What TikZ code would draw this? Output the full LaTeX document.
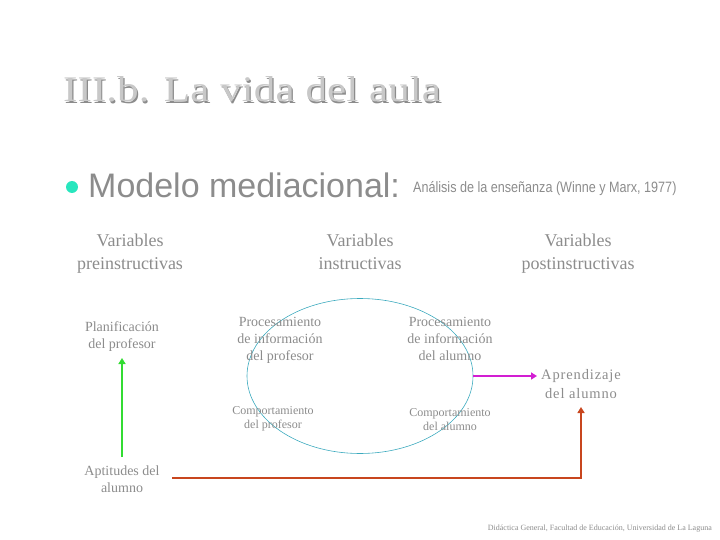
\documentclass[tikz,border=0pt]{standalone}
\usepackage{fontspec}
\setmainfont{Liberation Serif}
\newfontfamily\arialf{Liberation Sans}
\newfontfamily\spacedf[LetterSpace=6]{Liberation Serif}
\usetikzlibrary{arrows.meta,shapes.geometric}
\definecolor{txtgray}{RGB}{140,140,140}
\definecolor{titlegray}{RGB}{200,200,200}
\definecolor{shadowgray}{RGB}{140,140,140}
\definecolor{bulletc}{RGB}{40,230,190}
\definecolor{ellc}{RGB}{60,170,190}
\definecolor{greenc}{RGB}{50,220,50}
\definecolor{magc}{RGB}{210,30,210}
\definecolor{redc}{RGB}{200,70,30}
\tikzset{
  lbl/.style={text=txtgray, align=center, inner sep=0pt},
  big/.style={lbl, font=\fontsize{18}{23}\selectfont},
  mid/.style={lbl, font=\fontsize{14}{17}\selectfont},
  small/.style={lbl, font=\fontsize{12}{14}\selectfont},
  arr/.style={line width=2pt, -{Triangle[length=6pt,width=7pt]}}
}
\begin{document}
\begin{tikzpicture}[x=1pt,y=-1pt]
\useasboundingbox (0,0) rectangle (720,540);
% title
\node[anchor=base west, inner sep=0pt, text=shadowgray, font=\fontsize{36}{36}\selectfont, xscale=1.2] (titleshadow) at (64.2,103.2) {III.b. La vida del aula};
\node[anchor=base west, inner sep=0pt, text=titlegray, font=\fontsize{36}{36}\selectfont, xscale=1.2] (title) at (63,102) {III.b. La vida del aula};
% bullet line
\fill[bulletc] (72,187) circle (6) node (bullet) {};
\node[anchor=base west, inner sep=0pt, text=txtgray, font=\arialf\fontsize{34}{34}\selectfont] (modelo) at (88,197) {Modelo mediacional:};
\node[anchor=base west, inner sep=0pt, text=txtgray, font=\arialf\fontsize{15}{15}\selectfont, xscale=0.84] (analisis) at (413,193) {Análisis de la enseñanza (Winne y Marx, 1977)};
% headers
\node[big] (pre) at (130,253) {Variables\strut\\preinstructivas\strut};
\node[big] (ins) at (360,253) {Variables\strut\\instructivas\strut};
\node[big] (post) at (578,253) {Variables\strut\\postinstructivas\strut};
% ellipse
\node[draw=ellc, line width=0.6pt, ellipse, minimum width=226, minimum height=155, inner sep=0pt] (ell) at (360,376) {};
% labels
\node[mid] (plan) at (122,336.5) {Planificación\strut\\del profesor\strut};
\node[mid] (procp) at (280,340) {Procesamiento\strut\\de información\strut\\del profesor\strut};
\node[mid] (proca) at (450,340) {Procesamiento\strut\\de información\strut\\del alumno\strut};
\node[small] (compp) at (273,419) {Comportamiento\strut\\del profesor\strut};
\node[small] (compa) at (450,421) {Comportamiento\strut\\del alumno\strut};
\node[lbl, font=\spacedf\fontsize{14.5}{19}\selectfont] (apr) at (581,385.5) {Aprendizaje\strut\\del alumno\strut};
\node[mid] (apt) at (122,480.5) {Aptitudes del\strut\\alumno\strut};
\node[anchor=base east, inner sep=0pt, text=txtgray, font=\fontsize{8}{8}\selectfont] (foot) at (712,530) {Didáctica General, Facultad de Educación, Universidad de La Laguna};
% connectors
\coordinate (gstart) at (122,457);
\coordinate (gend) at (122,358);
\draw[arr, greenc] (gstart) -- (gend);
\coordinate (mend) at (537,377);
\draw[arr, magc] (ell.east) -- (ell.east -| mend);
\coordinate (rstart) at (172,478);
\coordinate (rend) at (581,407);
\draw[arr, redc] (rstart) -| (rend);
\end{tikzpicture}
\end{document}
